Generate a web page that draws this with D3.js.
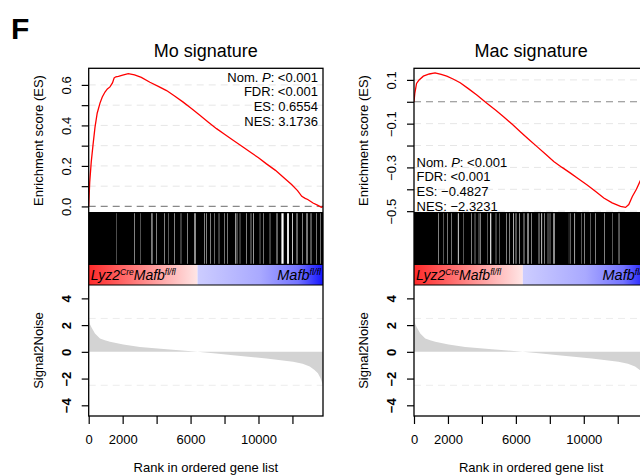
<!DOCTYPE html>
<html>
<head>
<meta charset="utf-8">
<script src="https://cdn.jsdelivr.net/npm/d3@7"></script>
<style>
  body { margin: 0; background: #fff; }
  svg { font-family: "Liberation Sans", Arial, sans-serif; display: block; }
</style>
</head>
<body>
<svg id="chart" width="640" height="476"></svg>
<script>
// ranked list shared by both gene sets
const N_GENES = 13800;
const zeroCross = 6410;
const xTickValues = [0, 2000, 4000, 6000, 8000, 10000, 12000];
const xTickShown = [0, 2000, 6000, 10000];

// signal2noise of the ranked list [rank, value]
const s2n = [[0, 2.6], [30, 2.3], [80, 2.05], [176, 1.8], [370, 1.37], [665, 1.0], [950, 0.86],
  [1253, 0.75], [2035, 0.55], [3017, 0.37], [4588, 0.2], [5500, 0.1], [6410, 0], [7500, -0.12],
  [8506, -0.25], [10470, -0.5], [12040, -0.75], [12600, -0.9], [13020, -1.1], [13300, -1.35],
  [13500, -1.6], [13650, -1.95], [13765, -2.36], [13800, -2.5]];

// running enrichment score [rank, ES]
const moES = [[0, 0], [60, 0.12], [150, 0.22], [250, 0.3], [370, 0.39], [500, 0.46], [665, 0.51],
  [800, 0.54], [960, 0.565], [1100, 0.58], [1253, 0.59], [1400, 0.61], [1500, 0.635], [1600, 0.64],
  [1750, 0.642], [2000, 0.648], [2330, 0.6554], [2700, 0.65], [3100, 0.637], [3606, 0.613],
  [4100, 0.593], [4588, 0.572], [5100, 0.543], [5565, 0.515], [6050, 0.483], [6547, 0.45],
  [7030, 0.417], [7530, 0.384], [8000, 0.356], [8506, 0.327], [9000, 0.298], [9488, 0.27],
  [10000, 0.24], [10470, 0.21], [11000, 0.178], [11447, 0.145], [11950, 0.108], [12300, 0.078],
  [12550, 0.05], [12750, 0.04], [12900, 0.034], [13212, 0.017], [13500, 0.005], [13700, -0.004],
  [13800, 0]];
const macES = [[0, 0], [50, 0.04], [150, 0.084], [300, 0.1], [550, 0.117], [900, 0.127],
  [1240, 0.132], [1600, 0.125], [1930, 0.117], [2300, 0.104], [2720, 0.087], [3200, 0.06],
  [3700, 0.031], [4290, -0.007], [4800, -0.038], [5275, -0.068], [5770, -0.102], [6260, -0.137],
  [6750, -0.171], [7245, -0.205], [7740, -0.239], [8230, -0.273], [8720, -0.3], [9215, -0.326],
  [9700, -0.353], [10200, -0.38], [10700, -0.41], [11180, -0.44], [11670, -0.462], [12165, -0.478],
  [12460, -0.4827], [12650, -0.47], [12860, -0.433], [13100, -0.4], [13350, -0.357],
  [13600, -0.2], [13800, 0]];

// hits fill the barcode except these gaps [rank, width in ranks]
const moGaps = [[1649, 10], [2686, 28], [3039, 12], [3699, 24], [3775, 24], [4005, 28], [4476, 28],
  [4688, 14], [5042, 28], [5436, 28], [5807, 28], [6261, 65], [6832, 28], [6950, 28], [7186, 28],
  [7421, 20], [7675, 28], [8010, 24], [8164, 24], [8647, 32], [8735, 32], [8912, 24], [9306, 28],
  [9559, 32], [9707, 32], [10090, 24], [10284, 24], [10679, 28], [11091, 45], [11415, 130],
  [11739, 105], [12004, 45], [12269, 45], [12581, 28], [12858, 55], [13094, 38], [13429, 24],
  [13665, 24]];
const macGaps = [[1455, 28], [1726, 14], [1961, 24], [2221, 24], [2609, 50], [2904, 14], [3399, 28],
  [3593, 28], [3829, 28], [3917, 24], [4317, 14], [4518, 65], [4830, 28], [5024, 14], [5460, 28],
  [5613, 28], [5860, 38], [6008, 38], [6214, 28], [6479, 38], [6715, 60], [6909, 28], [7363, 38],
  [7522, 47], [7699, 28], [7893, 28], [8011, 28], [8246, 65], [9130, 14], [9218, 14], [9466, 38],
  [9854, 14], [10054, 28], [10407, 14], [10702, 28], [11232, 28], [11680, 14], [12075, 38]];

const statLabels = ["FDR", "ES", "NES"];
const moStats = ["<0.001", "<0.001", "0.6554", "3.1736"];
const macStats = ["<0.001", "<0.001", "\u22120.4827", "\u22122.3231"];

const moTicks = [0, 0.1, 0.2, 0.3, 0.4, 0.5, 0.6];
const moTickLabels = [0, 0.2, 0.4, 0.6];
const macTicks = [-0.5, -0.4, -0.3, -0.2, -0.1, 0, 0.1];
const macTickLabels = [-0.5, -0.3, -0.1, 0.1];
const s2nTicks = [-4, -2, 0, 2, 4];

const svg = d3.select('#chart');
const minus = s => s.replace('-', '\u2212');

svg.append('text').attr('x', 11).attr('y', 39)
  .attr('font-size', 30).attr('font-weight', 'bold').text('F');

const defs = svg.append('defs');
const red = defs.append('linearGradient').attr('id', 'gRed');
red.append('stop').attr('offset', 0).attr('stop-color', '#ff2a2a');
red.append('stop').attr('offset', 1).attr('stop-color', '#ffe6e6');
const blue = defs.append('linearGradient').attr('id', 'gBlue');
[[0, '#cdcdff'], [0.5, '#a9a9ff'], [0.8, '#7474ff'], [1, '#1414ff']].forEach(s =>
  blue.append('stop').attr('offset', s[0]).attr('stop-color', s[1]));

function drawPanel(o) {
  const top = 68.3, esBot = 212.7, barBot = 264.3, cbBot = 285, bot = 416;
  const g = svg.append('g');
  const x = d3.scaleLinear().domain([0, N_GENES]).range([o.x0, o.x1]);
  const y = d3.scaleLinear().domain(o.esDomain).range([esBot, top]);
  const yS = d3.scaleLinear().domain([-4.8, 5.0]).range([bot, cbBot]);

  const clipId = 'clip' + o.id;
  defs.append('clipPath').attr('id', clipId).append('rect')
    .attr('x', o.x0).attr('y', top).attr('width', o.x1 - o.x0).attr('height', bot - top);
  const inner = g.append('g').attr('clip-path', `url(#${clipId})`);

  // grid
  inner.selectAll('.grid').data(o.ticks.filter(t => t !== 0)).join('line')
    .attr('x1', o.x0).attr('x2', o.x1).attr('y1', d => y(d)).attr('y2', d => y(d))
    .attr('stroke', '#e6e6e6').attr('stroke-dasharray', '7,5');
  inner.append('line').attr('x1', o.x0).attr('x2', o.x1).attr('y1', y(0)).attr('y2', y(0))
    .attr('stroke', '#888').attr('stroke-width', 1.1).attr('stroke-dasharray', '7,5');

  inner.append('path').datum(o.es)
    .attr('fill', 'none').attr('stroke', '#ff0000').attr('stroke-width', 1.3)
    .attr('d', d3.line().x(d => x(d[0])).y(d => y(d[1])));

  const st = g.append('text').attr('font-size', 13).attr('text-anchor', o.statAnchor);
  const vals = o.stats;
  const first = st.append('tspan').attr('x', o.statX).attr('y', o.statY);
  first.append('tspan').text('Nom. ');
  first.append('tspan').attr('font-style', 'italic').text('P');
  first.append('tspan').text(': ' + vals[0]);
  statLabels.forEach((l, i) => {
    st.append('tspan').attr('x', o.statX).attr('y', o.statY + 14.8 * (i + 1)).text(l + ': ' + vals[i + 1]);
  });

  // barcode: hit runs between gaps
  const runs = [];
  let s = 0;
  o.gaps.forEach(([c, w]) => { runs.push([s, c - w / 2]); s = c + w / 2; });
  runs.push([s, N_GENES]);
  inner.selectAll('.hit').data(runs).join('rect')
    .attr('x', d => x(d[0])).attr('width', d => x(d[1]) - x(d[0]))
    .attr('y', esBot).attr('height', barBot - esBot).attr('fill', '#000');

  // phenotype colour bar
  inner.append('rect').attr('x', x(0)).attr('width', x(zeroCross) - x(0))
    .attr('y', barBot).attr('height', cbBot - barBot).attr('fill', 'url(#gRed)');
  inner.append('rect').attr('x', x(zeroCross)).attr('width', x(N_GENES) - x(zeroCross))
    .attr('y', barBot).attr('height', cbBot - barBot).attr('fill', 'url(#gBlue)');
  const lt = g.append('text').attr('x', o.x0 + 2).attr('y', 280).attr('font-size', 14).attr('font-style', 'italic');
  lt.append('tspan').text('Lyz2');
  lt.append('tspan').attr('font-size', 8.5).attr('dy', -5).text('Cre');
  lt.append('tspan').attr('dy', 5).text('Mafb');
  lt.append('tspan').attr('font-size', 8.5).attr('dy', -5).text('fl/fl');
  const rt = g.append('text').attr('x', o.x1 - 2).attr('y', 280).attr('font-size', 14.5)
    .attr('font-style', 'italic').attr('text-anchor', 'end');
  rt.append('tspan').text('Mafb');
  rt.append('tspan').attr('font-size', 9).attr('dy', -5).text('fl/fl');

  // signal2noise
  inner.selectAll('.sg').data([2.5, -2.5]).join('line')
    .attr('x1', o.x0).attr('x2', o.x1).attr('y1', d => yS(d)).attr('y2', d => yS(d))
    .attr('stroke', '#ececec').attr('stroke-dasharray', '7,5');
  inner.append('path').datum(s2n).attr('fill', '#d3d3d3')
    .attr('d', d3.area().x(d => x(d[0])).y0(yS(0)).y1(d => yS(d[1])));

  // frame
  g.append('rect').attr('x', o.x0).attr('y', top).attr('width', o.x1 - o.x0).attr('height', bot - top)
    .attr('fill', 'none').attr('stroke', '#000').attr('stroke-width', 1.3);
  g.selectAll('.sep').data([esBot, barBot, cbBot]).join('line')
    .attr('x1', o.x0).attr('x2', o.x1).attr('y1', d => d).attr('y2', d => d)
    .attr('stroke', '#000').attr('stroke-width', 1.2);

  // axes
  const esAxis = g.append('g').attr('transform', `translate(${o.x0},0)`)
    .call(d3.axisLeft(y).tickValues(o.ticks).tickSize(7)
      .tickFormat(d => o.tickLabels.includes(d) ? minus(d3.format('.1f')(d)) : ''));
  const sAxis = g.append('g').attr('transform', `translate(${o.x0},0)`)
    .call(d3.axisLeft(yS).tickValues(s2nTicks).tickSize(7).tickFormat(d => minus(String(d))));
  sAxis.selectAll('text').attr('font-weight', 'bold');
  [esAxis, sAxis].forEach(a => {
    a.select('.domain').remove();
    a.selectAll('line').attr('stroke-width', 1.2);
    a.selectAll('text').attr('font-size', 13).attr('font-family', null).attr('fill', '#000')
      .attr('transform', 'rotate(-90)').attr('x', 0).attr('y', -18).attr('dy', null)
      .attr('text-anchor', 'middle');
  });
  const xAxis = g.append('g').attr('transform', `translate(0,${bot})`)
    .call(d3.axisBottom(x).tickValues(xTickValues).tickSize(8)
      .tickFormat(d => xTickShown.includes(d) ? String(d) : ''));
  xAxis.select('.domain').remove();
  xAxis.selectAll('line').attr('stroke-width', 1.2);
  xAxis.selectAll('text').attr('font-size', 13).attr('font-family', null).attr('fill', '#000')
    .attr('y', 28).attr('dy', null);

  const cx = (o.x0 + o.x1) / 2;
  g.append('text').attr('x', cx).attr('y', 57).attr('font-size', 18)
    .attr('text-anchor', 'middle').text(o.title);
  g.append('text').attr('x', cx).attr('y', 472).attr('font-size', 13)
    .attr('text-anchor', 'middle').text('Rank in ordered gene list');
  g.append('text').attr('transform', `translate(${o.x0 - 46},${(top + esBot) / 2}) rotate(-90)`)
    .attr('font-size', 13).attr('text-anchor', 'middle').text('Enrichment score (ES)');
  g.append('text').attr('transform', `translate(${o.x0 - 46},${(cbBot + bot) / 2}) rotate(-90)`)
    .attr('font-size', 13).attr('text-anchor', 'middle').text('Signal2Noise');
}

drawPanel({ id: 'mo', title: 'Mo signature', x0: 88.7, x1: 323, esDomain: [-0.031, 0.682],
  es: moES, gaps: moGaps, ticks: moTicks, tickLabels: moTickLabels,
  stats: moStats, statAnchor: 'end', statX: 318, statY: 81.5 });
drawPanel({ id: 'mac', title: 'Mac signature', x0: 414, x1: 648.3, esDomain: [-0.507, 0.153],
  es: macES, gaps: macGaps, ticks: macTicks, tickLabels: macTickLabels,
  stats: macStats, statAnchor: 'start', statX: 416.5, statY: 166.5 });
</script>
</body>
</html>
